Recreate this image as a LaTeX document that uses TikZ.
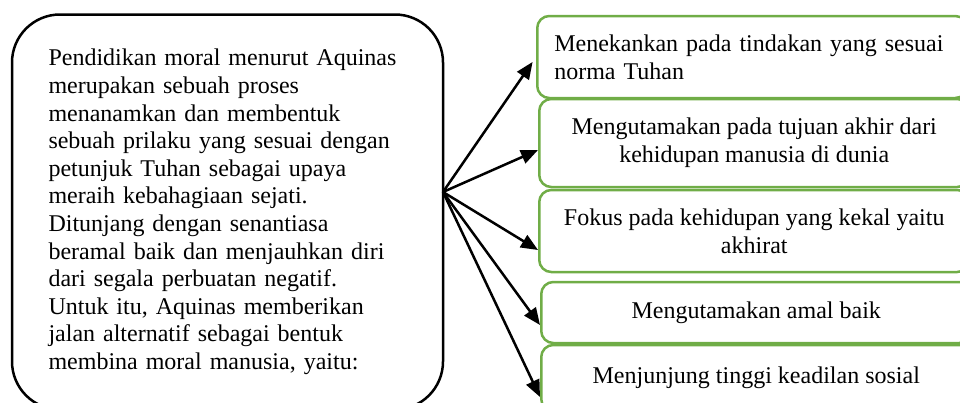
\documentclass[tikz,border=0pt]{standalone}
\usepackage{fontspec}
\setmainfont{Liberation Serif}
\usetikzlibrary{arrows.meta}
\definecolor{boxgreen}{HTML}{70AD47}

\begin{document}
\begin{tikzpicture}[x=1pt,y=-1pt,
  txt/.style={font=\fontsize{24}{27.6}\selectfont},
  mainbox/.style={txt, draw, line width=2.5pt, rounded corners=48pt, align=left, inner sep=0pt},
  greenbox/.style={txt, draw=boxgreen, line width=2.5pt, rounded corners=12pt, anchor=west, minimum width=430pt, align=center, inner sep=0pt},
  link/.style={line width=2.5pt, -{Triangle[length=17pt,width=14pt]}}]
\path[use as bounding box, clip] (0,0) rectangle (960,402);
\node[mainbox, text width=358pt, minimum width=431pt, minimum height=395pt] (moral) at (227.5,212)
  {Pendidikan moral menurut Aquinas\\ merupakan sebuah proses\\ menanamkan dan membentuk\\ sebuah prilaku yang sesuai dengan\\ petunjuk Tuhan sebagai upaya\\ meraih kebahagiaan sejati.\\ Ditunjang dengan senantiasa\\ beramal baik dan menjauhkan diri\\ dari segala perbuatan negatif.\\ Untuk itu, Aquinas memberikan\\ jalan alternatif sebagai bentuk\\ membina moral manusia, yaitu:};
\node[greenbox, align=left, text width=396pt, minimum height=82pt] (b1) at (536,57) {Menekankan pada tindakan yang sesuai\\ norma Tuhan};
\node[greenbox, minimum height=88pt] (b2) at (538,143) {Mengutamakan pada tujuan akhir dari\\ kehidupan manusia di dunia};
\node[greenbox, minimum height=82pt] (b3) at (538,231) {Fokus pada kehidupan yang kekal yaitu\\ akhirat};
\node[greenbox, minimum height=61pt] (b4) at (540,312.5) {Mengutamakan amal baik};
\node[greenbox, minimum height=66pt] (b5) at (540,378) {Menjunjung tinggi keadilan sosial};
\coordinate (hub) at (443,192);
\draw[link, shorten >=6pt] (hub) -- (b1.west);
\draw[link] (hub) -- (b2.west |- 0,150);
\draw[link] (hub) -- (b3.west |- 0,250);
\draw[link] (hub) -- (b4.west |- 0,325);
\draw[link] (hub) -- (b5.west |- 0,397);
\end{tikzpicture}
\end{document}
